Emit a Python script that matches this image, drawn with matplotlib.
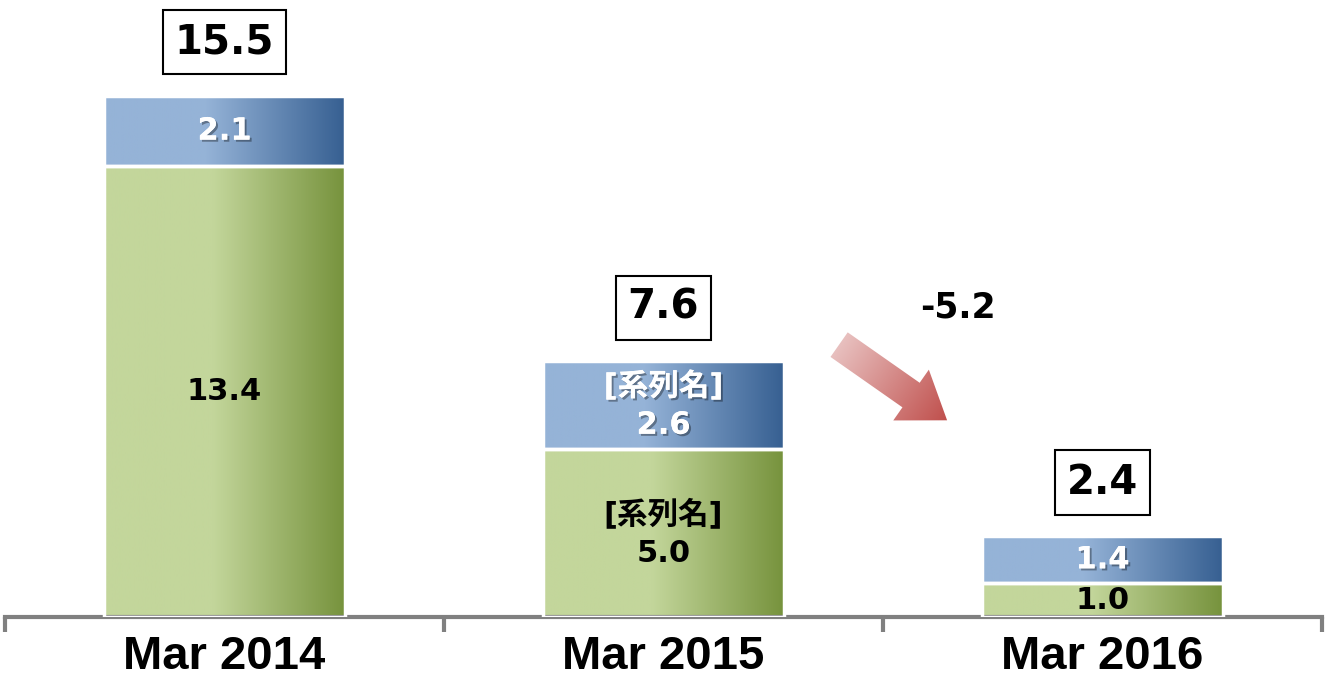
import matplotlib
matplotlib.use("Agg")
import matplotlib.pyplot as plt
import numpy as np
from matplotlib import patheffects
from matplotlib.colors import LinearSegmentedColormap
from matplotlib.patches import FancyArrow

# Chart data
categories = ["Mar 2014", "Mar 2015", "Mar 2016"]
base_values = [13.4, 5.0, 1.0]   # green segment
top_values = [2.1, 2.6, 1.4]     # blue segment
series_name = "[系列名]"
show_series_name = [False, True, False]

plt.rcParams["font.family"] = ["DejaVu Sans", "Noto Sans CJK JP"]

W, H = 1326, 685
green_cmap = LinearSegmentedColormap.from_list(
    "green", [(0, "#C3D69B"), (0.45, "#C3D69B"), (1, "#76923C")])
blue_cmap = LinearSegmentedColormap.from_list(
    "blue", [(0, "#95B3D7"), (0.42, "#95B3D7"), (1, "#365F91")])
red_cmap = LinearSegmentedColormap.from_list("red", ["#E8C0BF", "#C0504D"])

fig = plt.figure(figsize=(W / 100, H / 100), dpi=100)
ax = fig.add_axes([5 / W, 68 / H, 1317 / W, 617 / H])

x = np.arange(len(categories))
width = 0.55
base = np.array(base_values)
top = np.array(top_values)
totals = base + top
grad = np.linspace(0, 1, 256).reshape(1, -1)


def gradient_fill(bars, cmap):
    for bar in bars:
        x0, y0 = bar.get_x(), bar.get_y()
        img = ax.imshow(grad, cmap=cmap, aspect="auto", zorder=2,
                        extent=(x0, x0 + bar.get_width(), y0, y0 + bar.get_height()))
        img.set_clip_path(bar)


base_bars = ax.bar(x, base, width, facecolor="none", edgecolor="white",
                   linewidth=2.5, zorder=3)
top_bars = ax.bar(x, top, width, bottom=base, facecolor="none",
                  edgecolor="white", linewidth=2.5, zorder=3)
gradient_fill(base_bars, green_cmap)
gradient_fill(top_bars, blue_cmap)

shadow = [patheffects.withSimplePatchShadow(offset=(1.5, -1.5),
                                            shadow_rgbFace="black", alpha=0.35),
          patheffects.Normal()]

for i in range(len(categories)):
    lab_b = f"{base[i]:.1f}"
    lab_t = f"{top[i]:.1f}"
    if show_series_name[i]:
        lab_b = f"{series_name}\n{lab_b}"
        lab_t = f"{series_name}\n{lab_t}"
    ax.text(x[i], base[i] / 2, lab_b, ha="center", va="center", fontsize=22,
            fontweight="bold", color="black", linespacing=1.45, zorder=5)
    ax.text(x[i], base[i] + top[i] / 2, lab_t, ha="center", va="center",
            fontsize=22, fontweight="bold", color="white", linespacing=1.4,
            path_effects=shadow, zorder=5)
    ax.text(x[i], totals[i] + 1.6, f"{totals[i]:.1f}", ha="center", va="center",
            fontsize=29, fontweight="bold", color="black", zorder=5,
            bbox=dict(boxstyle="square,pad=0.3", fc="white", ec="black", lw=1.5))

change = totals[2] - totals[1]
ax.text(1.67, 9.2, f"{change:.1f}", ha="center", va="center", fontsize=25,
        fontweight="bold", color="black")

ax.set_xlim(-0.5, 2.5)
ax.set_ylim(0, 18.35)
for side in ["left", "right", "top"]:
    ax.spines[side].set_visible(False)
ax.spines["bottom"].set_color("#808080")
ax.spines["bottom"].set_linewidth(3)
ax.set_yticks([])
ax.set_xticks(x, categories)
ax.set_xticks([-0.5, 0.5, 1.5, 2.5], minor=True)
ax.tick_params(axis="x", which="major", length=0, pad=13, labelsize=34)
ax.tick_params(axis="x", which="minor", length=11, width=3, color="#808080",
               direction="out")
for lab in ax.get_xticklabels():
    lab.set_fontfamily("Liberation Sans")
    lab.set_fontweight("bold")

# Decrease arrow between the second and third bars (drawn in pixel space)
tail = ax.transData.transform((1.40, 8.1))
tip = ax.transData.transform((1.646, 5.85))
arrow_ax = fig.add_axes([0, 0, 1, 1], zorder=4)
arrow_ax.set_xlim(0, W)
arrow_ax.set_ylim(0, H)
arrow_ax.axis("off")
d = tip - tail
arrow = FancyArrow(tail[0], tail[1], d[0], d[1], width=30, head_width=62,
                   head_length=44, length_includes_head=True,
                   facecolor="none", edgecolor="none")
arrow_ax.add_patch(arrow)
xmin, ymin = np.minimum(tail, tip) - 40
xmax, ymax = np.maximum(tail, tip) + 40
gx, gy = np.meshgrid(np.linspace(xmin, xmax, 200), np.linspace(ymin, ymax, 200))
proj = ((gx - tail[0]) * d[0] + (gy - tail[1]) * d[1]) / (d @ d)
img = arrow_ax.imshow(np.clip(proj, 0, 1), cmap=red_cmap, origin="lower",
                      extent=(xmin, xmax, ymin, ymax), aspect="auto")
img.set_clip_path(arrow)
arrow_ax.set_xlim(0, W)
arrow_ax.set_ylim(0, H)

fig.savefig("out.png", dpi=100)
